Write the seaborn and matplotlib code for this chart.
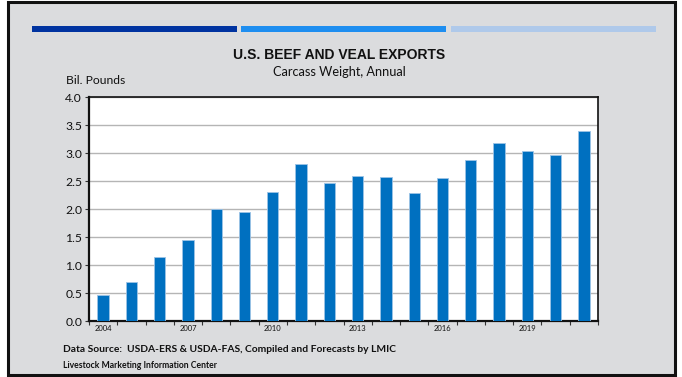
import matplotlib
matplotlib.use("Agg")
import matplotlib.pyplot as plt
from matplotlib.patches import Rectangle
import seaborn as sns
import pandas as pd

years = [str(y) for y in range(2004, 2022)]
exports = [0.46, 0.70, 1.15, 1.44, 2.00, 1.94, 2.30, 2.80, 2.46, 2.59,
           2.58, 2.28, 2.56, 2.87, 3.17, 3.04, 2.96, 3.39]
shown_labels = ["2004", "2007", "2010", "2013", "2016", "2019"]
yticks = [0.0, 0.5, 1.0, 1.5, 2.0, 2.5, 3.0, 3.5, 4.0]

title = "U.S. BEEF AND VEAL EXPORTS"
subtitle = "Carcass Weight, Annual"
ylabel = "Bil. Pounds"
source = "Data Source:  USDA-ERS & USDA-FAS, Compiled and Forecasts by LMIC"
credit = "Livestock Marketing Information Center"

sns.set_theme(style="white")
plt.rcParams['font.family'] = ['Lato', 'DejaVu Sans']

W, H = 682, 377
fig = plt.figure(figsize=(W / 100, H / 100), dpi=100)
fig.patch.set_facecolor("white")

def fx(x):
    return x / W

def fy(y):
    return 1 - y / H

# gray panel with black border
fig.patches.append(Rectangle((fx(8), fy(375)), fx(667), 373 / H, transform=fig.transFigure,
                             facecolor="#DBDCDE", edgecolor="#111111", linewidth=2.2, zorder=-5))
# decorative colour strips
for x0, x1, c in [(32, 237, "#0033A0"), (241, 446, "#1E8EF0"), (451, 656, "#AFC9EA")]:
    fig.patches.append(Rectangle((fx(x0), fy(32)), fx(x1 - x0), 6 / H, transform=fig.transFigure,
                                 facecolor=c, edgecolor="none", zorder=-4))

ax = fig.add_axes([fx(89), fy(321), fx(509), 224 / H])
ax.set_zorder(2)
df = pd.DataFrame({"year": years, "exports": exports})
sns.barplot(data=df, x="year", y="exports", color="#0070C0", width=0.4,
            saturation=1, ax=ax, edgecolor="#9CC3E6", linewidth=0.6, zorder=3)

ax.set_facecolor("white")
ax.set_ylim(0, 4.0)
ax.set_xlim(-0.5, len(years) - 0.5)
ax.set_yticks(yticks)
ax.set_yticklabels([f"{v:.1f}" for v in yticks], fontsize=8.7, color="#111111")
ax.yaxis.grid(True, color="#B5B5B5", linewidth=1.0, zorder=0)
ax.set_axisbelow(True)

# x ticks: marks at category boundaries, labels every third year
ax.set_xticks([i - 0.5 for i in range(len(years) + 1)])
ax.set_xticklabels([])
ax.set_xticks([years.index(l) for l in shown_labels], minor=True)
ax.set_xticklabels(shown_labels, minor=True, fontsize=5.5, color="#111111")
ax.tick_params(axis="x", which="major", direction="out", length=3, width=0.8, color="#333333")
ax.tick_params(axis="x", which="minor", length=0, pad=3)
ax.tick_params(axis="y", direction="out", length=3, width=0.8, color="#333333", pad=2, left=True)
ax.tick_params(axis="x", bottom=True, which="major")
ax.set_xlabel("")
ax.set_ylabel("")

for side in ["left", "bottom"]:
    ax.spines[side].set_color("#111111")
    ax.spines[side].set_linewidth(1.6)
for side in ["right", "top"]:
    ax.spines[side].set_color("#111111")
    ax.spines[side].set_linewidth(1.2)
for s in ax.spines.values():
    s.set_visible(True)

fig.text(fx(339), fy(55), title, ha="center", va="center", fontsize=10, fontweight="bold",
         family=["Liberation Sans Narrow", "Liberation Sans", "DejaVu Sans"], color="#111111")
fig.text(fx(339), fy(72), subtitle, ha="center", va="center", fontsize=9.2, color="#111111")
fig.text(fx(66), fy(81), ylabel, ha="left", va="center", fontsize=8.7, color="#111111")
fig.text(fx(63), fy(350), source, ha="left", va="center", fontsize=7.4, fontweight="bold", color="#111111")
fig.text(fx(63), fy(365), credit, ha="left", va="center", fontsize=6.2, fontweight="bold", color="#111111")

fig.savefig("out.png", dpi=100)
